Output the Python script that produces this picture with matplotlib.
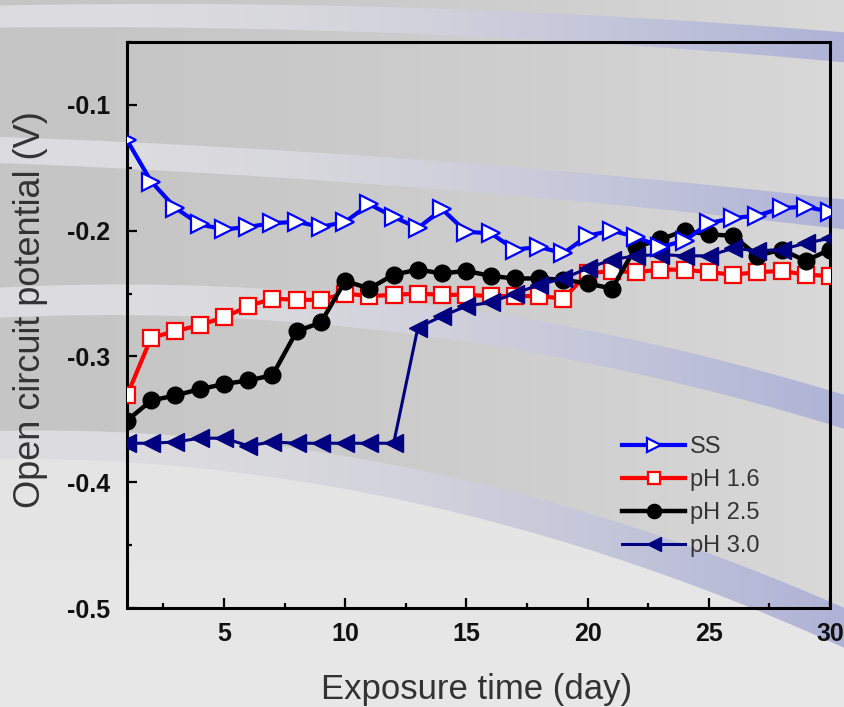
import numpy as np
import matplotlib
matplotlib.use("Agg")
import matplotlib.pyplot as plt
from matplotlib.ticker import MultipleLocator

# ---------------- data ----------------
days = list(range(1, 31))
ss = [-0.128, -0.161, -0.182, -0.195, -0.199, -0.197, -0.194, -0.193, -0.197, -0.193,
      -0.179, -0.189, -0.198, -0.183, -0.201, -0.202, -0.215, -0.213, -0.218, -0.204,
      -0.200, -0.205, -0.213, -0.208, -0.194, -0.190, -0.188, -0.182, -0.181, -0.185]
ph16 = [-0.331, -0.285, -0.280, -0.275, -0.269, -0.260, -0.254, -0.255, -0.255, -0.250,
        -0.252, -0.251, -0.250, -0.251, -0.251, -0.252, -0.252, -0.252, -0.254, -0.234,
        -0.232, -0.233, -0.231, -0.231, -0.233, -0.235, -0.233, -0.232, -0.235, -0.236]
ph25 = [-0.351, -0.335, -0.331, -0.326, -0.322, -0.319, -0.315, -0.280, -0.273, -0.240,
        -0.246, -0.235, -0.231, -0.234, -0.232, -0.236, -0.238, -0.238, -0.239, -0.242,
        -0.246, -0.213, -0.207, -0.200, -0.203, -0.204, -0.220, -0.215, -0.224, -0.215]
ph30 = [-0.369, -0.369, -0.368, -0.365, -0.365, -0.371, -0.368, -0.369, -0.369, -0.369,
        -0.369, -0.369, -0.277, -0.268, -0.260, -0.257, -0.250, -0.243, -0.238, -0.230,
        -0.223, -0.220, -0.219, -0.220, -0.220, -0.214, -0.216, -0.215, -0.210, -0.206]
labels = ["SS", "pH 1.6", "pH 2.5", "pH 3.0"]
xticks = [5, 10, 15, 20, 25, 30]
yticks = [-0.5, -0.4, -0.3, -0.2, -0.1]

plt.rcParams['font.family'] = ['Liberation Sans', 'DejaVu Sans']

W, H = 845, 707
fig = plt.figure(figsize=(W / 100, H / 100), dpi=100)

# ---------------- decorative background ----------------
xx = np.arange(W, dtype=float)[None, :]
yy = np.arange(H, dtype=float)[:, None]
xn = xx / W

light = np.ones((H, W, 3))
lv = (222 + 10 * (yy / H)) / 255.0 + 0 * xx
light[..., 0] = lv; light[..., 1] = lv; light[..., 2] = lv
darkv = (197 + 20 * xn ** 1.5) / 255.0 + 0 * yy

t = np.clip((xx - 150) / 695.0, 0, 1) ** 1.5
s_left = np.array([220, 220, 222]) / 255.0
s_right = np.array([174, 178, 214]) / 255.0
stripe = np.zeros((H, W, 3))
for k in range(3):
    stripe[..., k] = (s_left[k] * (1 - t) + s_right[k] * t) + 0 * yy


def curve(px, py):
    c = np.polyfit(px, py, 2)
    return np.polyval(c, xx)

stripes = [
    (curve([0, 580, 845], [16, 28, 47]), 11, 15),
    (curve([0, 120, 480, 580, 845], [146, 160, 176, 186, 215]), 13, 15),
    (curve([0, 120, 470, 845], [301, 301, 325, 412]), 15, 17),
    (curve([0, 120, 620, 845], [440, 453, 537, 630]), 14, 20),
]

img = light.copy()
c3 = stripes[3][0]
a = np.clip(c3 - yy + 0.5, 0, 1)[..., None]
dark = np.repeat(darkv[..., None], 3, axis=2)
img = img * (1 - a) + dark * a
for c, h0, h1 in stripes:
    hw = h0 + (h1 - h0) * xn
    a = np.clip(hw - np.abs(yy - c) + 0.5, 0, 1)[..., None]
    img = img * (1 - a) + stripe * a

bg = fig.add_axes([0, 0, 1, 1])
bg.imshow(np.clip(img, 0, 1), aspect='auto', interpolation='bilinear')
bg.axis('off')

# ---------------- main axes ----------------
L, R, T, B = 127, 830, 42, 608
ax = fig.add_axes([L / W, 1 - B / H, (R - L) / W, (B - T) / H])
ax.patch.set_alpha(0)

ax.plot(days, ph16, color='#ff0000', lw=3.0, marker='s', ms=11, mfc='white',
        mec='#ff0000', mew=1.6, label=labels[1], zorder=3)
ax.plot(days, ph25, color='black', lw=3.2, marker='o', ms=12, mfc='black',
        mec='black', label=labels[2], zorder=4)
ax.plot(days, ph30, color='#000080', lw=2.2, marker='<', ms=12.5, mfc='#000080',
        mec='#000080', label=labels[3], zorder=5)
ax.plot(days, ss, color='#0000ff', lw=3.0, marker='>', ms=12.5, mfc='white',
        mec='#0000ff', mew=1.6, label=labels[0], zorder=6)

ax.set_xlim(1, 30)
ax.set_ylim(-0.5, -0.05)
ax.set_xticks(xticks)
ax.set_yticks(yticks)
ax.xaxis.set_minor_locator(MultipleLocator(2.5))
ax.yaxis.set_minor_locator(MultipleLocator(0.05))
ax.set_xticklabels([str(v) for v in xticks])
ax.set_yticklabels(["%.1f" % v for v in yticks])
ax.tick_params(which='both', direction='in', top=False, right=False, width=1.6, color='black')
ax.tick_params(which='major', length=7)
ax.tick_params(which='minor', length=3.5)
ax.tick_params(axis='y', which='major', pad=12)
ax.tick_params(axis='x', which='major', pad=10)
for lab in ax.get_xticklabels() + ax.get_yticklabels():
    lab.set_fontweight('bold')
    lab.set_fontsize(18)
    lab.set_color('#111111')
for sp in ax.spines.values():
    sp.set_linewidth(2.2)
    sp.set_color('black')

fig.text(477 / W, 1 - 690 / H, "Exposure time (day)", ha='center', va='center',
         fontsize=25, color='#333333')
fig.text(31 / W, 1 - 310 / H, "Open circuit potential (V)", ha='center', va='center',
         rotation=90, fontsize=26, color='#333333')

handles, labs = ax.get_legend_handles_labels()
order = [labs.index(l) for l in labels]
leg = ax.legend([handles[i] for i in order], [labs[i] for i in order],
                loc='upper left', bbox_to_anchor=(622 / W, 1 - 436 / H),
                bbox_transform=fig.transFigure, frameon=False, fontsize=17,
                borderpad=0, borderaxespad=0, handlelength=2.67, handletextpad=0.21,
                labelspacing=0.47, markerscale=0.85)
for txt in leg.get_texts():
    txt.set_color('#333333')

fig.savefig("out.png", dpi=100)
